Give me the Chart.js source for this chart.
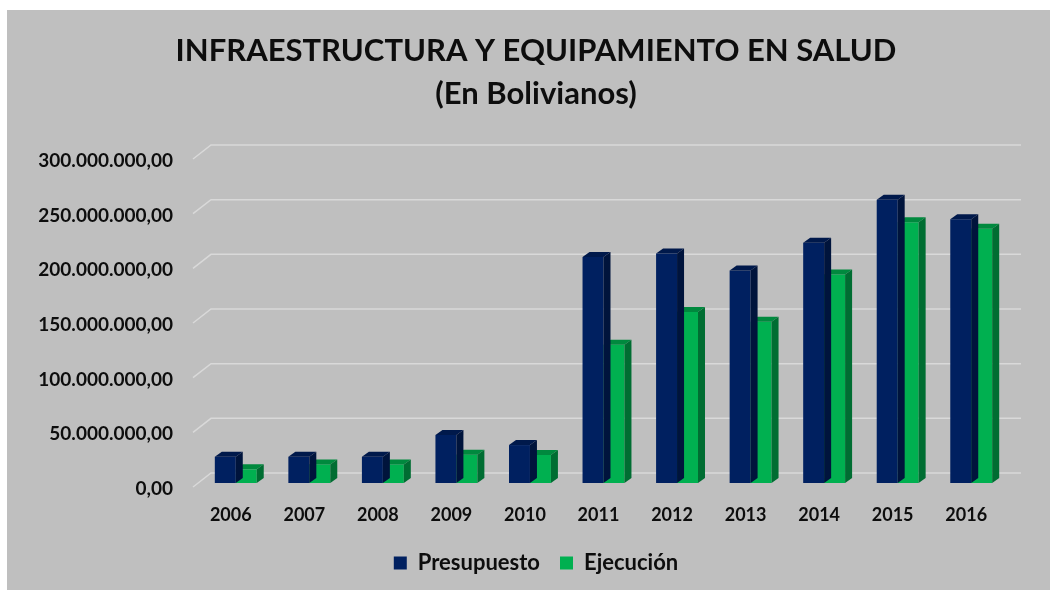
<!DOCTYPE html>
<html>
<head>
<meta charset="utf-8">
<script src="https://cdn.jsdelivr.net/npm/chart.js@4.4.1/dist/chart.umd.min.js"></script>
<style>
    html, body { margin: 0; padding: 0; background: #ffffff; }
    #wrap { position: absolute; left: 7px; top: 10px; width: 1043px; height: 580px; background: #bfbfbf; }
</style>
</head>
<body>
<div id="wrap"><canvas id="chart"></canvas></div>
<script>
var years = ['2006', '2007', '2008', '2009', '2010', '2011', '2012', '2013', '2014', '2015', '2016'];
var presupuesto = [24000000, 24000000, 24000000, 43900000, 34700000, 206600000, 210000000, 194400000, 219700000, 259000000, 241300000];
var ejecucion = [12500000, 17000000, 17000000, 25900000, 25600000, 126500000, 156300000, 147500000, 190800000, 238600000, 232500000];
var yMax = 300000000;
var yStep = 50000000;

// depth of the fake 3d boxes
var DX = 7, DY = 5;

function formatBs(v) {
    var parts = Math.round(v).toString().replace(/\B(?=(\d{3})+(?!\d))/g, '.');
    return parts + ',00';
}

function shade(hex, f) {
    var n = parseInt(hex.slice(1), 16);
    var r = Math.round(((n >> 16) & 255) * f);
    var g = Math.round(((n >> 8) & 255) * f);
    var b = Math.round((n & 255) * f);
    return 'rgb(' + r + ',' + g + ',' + b + ')';
}

var wallGrid = {
    id: 'wallGrid',
    afterLayout: function (chart) {
        // y labels are clipped to the axis box, let them use the left margin
        chart.scales.y.left = 0;
    },
    beforeDatasetsDraw: function (chart) {
        var ctx = chart.ctx;
        var y = chart.scales.y;
        var area = chart.chartArea;
        ctx.save();
        ctx.strokeStyle = '#d9d9d9';
        ctx.lineWidth = 1.5;
        y.ticks.forEach(function (t) {
            var py = y.getPixelForValue(t.value);
            ctx.beginPath();
            ctx.moveTo(area.left - 6, py + 4);
            ctx.lineTo(area.left + 12, py - 10);
            ctx.lineTo(area.right + 13, py - 10);
            ctx.stroke();
        });
        ctx.restore();
    },
    afterDatasetDraw: function (chart, args) {
        var ctx = chart.ctx;
        var ds = chart.data.datasets[args.index];
        var base = ds.backgroundColor;
        ctx.save();
        args.meta.data.forEach(function (bar) {
            var p = bar.getProps(['x', 'y', 'base', 'width'], true);
            var l = p.x - p.width / 2, r = p.x + p.width / 2;
            var top = p.y, bot = p.base;
            // top face
            ctx.fillStyle = shade(base, 0.78);
            ctx.beginPath();
            ctx.moveTo(l, top);
            ctx.lineTo(l + DX, top - DY);
            ctx.lineTo(r + DX, top - DY);
            ctx.lineTo(r, top);
            ctx.closePath();
            ctx.fill();
            // side face
            ctx.fillStyle = shade(base, 0.62);
            ctx.beginPath();
            ctx.moveTo(r, top);
            ctx.lineTo(r + DX, top - DY);
            ctx.lineTo(r + DX, bot - DY);
            ctx.lineTo(r, bot);
            ctx.closePath();
            ctx.fill();
        });
        ctx.restore();
    }
};

var chart = new Chart(document.getElementById('chart'), {
    type: 'bar',
    data: {
        labels: years,
        datasets: [
            {label: 'Presupuesto', data: presupuesto, backgroundColor: '#002060'},
            {label: 'Ejecución', data: ejecucion, backgroundColor: '#00b050'}
        ]
    },
    options: {
        responsive: true,
        maintainAspectRatio: false,
        animation: false,
        events: [],
        layout: {padding: {left: 57, right: 42, top: 0, bottom: 6}},
        datasets: {bar: {categoryPercentage: 0.57, barPercentage: 1.0}},
        scales: {
            x: {
                grid: {display: false, drawTicks: false},
                border: {display: false},
                ticks: {
                    color: '#0d0d0d', padding: 21, labelOffset: -5,
                    maxRotation: 0, autoSkip: false,
                    font: {family: 'Lato', weight: 'bold', size: 18}
                },
                afterFit: function (s) { s.height = 49; }
            },
            y: {
                min: 0, max: yMax,
                grid: {display: false, drawTicks: false},
                border: {display: false},
                ticks: {
                    stepSize: yStep, color: '#0d0d0d', padding: 26, labelOffset: 6,
                    font: {family: 'Lato', weight: 'bold', size: 19},
                    callback: function (v) { return formatBs(v); }
                },
                afterFit: function (s) { s.width = 135; }
            }
        },
        plugins: {
            title: {
                display: true,
                text: ['INFRAESTRUCTURA Y EQUIPAMIENTO EN SALUD', '(En Bolivianos)'],
                color: '#0d0d0d',
                font: {family: 'Lato', weight: 'bold', size: 31, lineHeight: 43 / 31},
                padding: {top: 19, bottom: 40}
            },
            legend: {
                position: 'bottom',
                labels: {
                    color: '#0d0d0d', boxWidth: 13, boxHeight: 13, padding: 20,
                    font: {family: 'Lato', weight: 'bold', size: 22}
                }
            },
            tooltip: {enabled: false}
        }
    },
    plugins: [wallGrid]
});
</script>
</body>
</html>
